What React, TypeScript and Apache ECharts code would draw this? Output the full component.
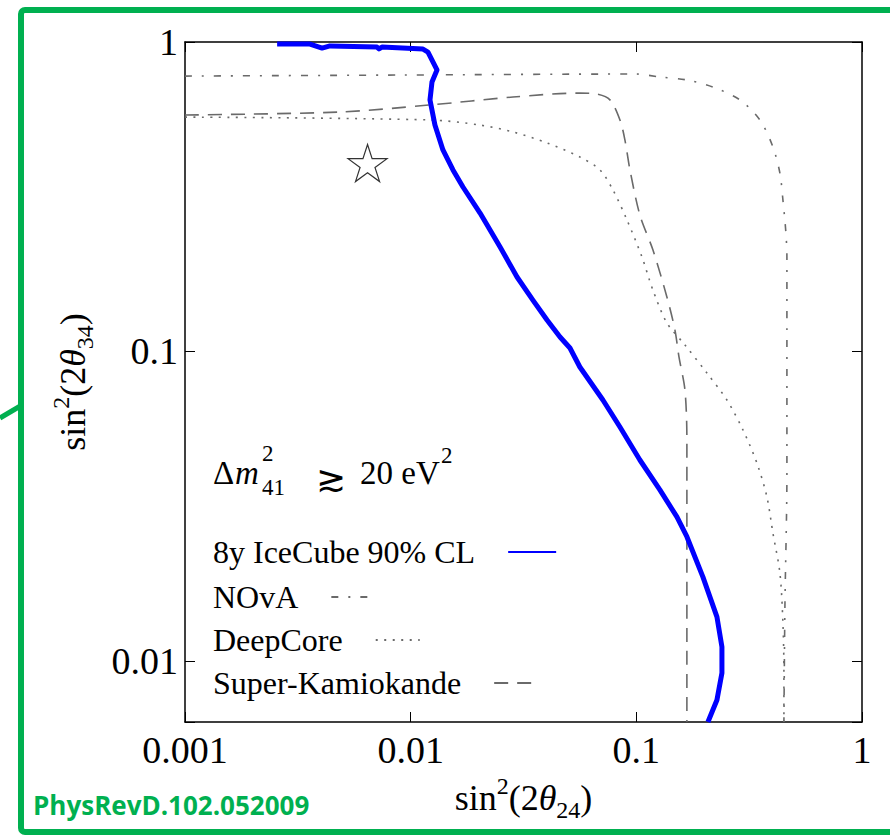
import React, { useEffect, useRef } from 'react';
import * as echarts from 'echarts';

// ---- data ----
const xRange = [0.001, 1];
const yRange = [0.00635, 1];
const seriesNames = ['8y IceCube 90% CL', 'NOvA', 'DeepCore', 'Super-Kamiokande'];

const iceCubeX = [0.00256, 0.00358, 0.00405, 0.00439, 0.00709, 0.00724, 0.00746, 0.01134, 0.01193, 0.01308, 0.01243, 0.01218, 0.01281, 0.0139, 0.0154, 0.01705, 0.0203, 0.0249, 0.0296, 0.0348, 0.0402, 0.0459, 0.0508, 0.0562, 0.0711, 0.0846, 0.1037, 0.1272, 0.1513, 0.1675, 0.1972, 0.2276, 0.2395, 0.2395, 0.2276, 0.2076];
const iceCubeY = [0.985, 0.985, 0.956, 0.971, 0.963, 0.95, 0.963, 0.949, 0.928, 0.812, 0.743, 0.65, 0.539, 0.448, 0.386, 0.34, 0.28, 0.2177, 0.174, 0.1466, 0.1264, 0.1114, 0.1026, 0.0891, 0.0697, 0.057, 0.0446, 0.0357, 0.0292, 0.0252, 0.0187, 0.01388, 0.0111, 0.00914, 0.00748, 0.00635];

const novaX = [0.001, 0.00897, 0.0986, 0.1272, 0.1675, 0.2185, 0.2877, 0.3528, 0.4029, 0.4327, 0.4462, 0.4601, 0.4648, 0.4648, 0.4648, 0.4554, 0.4508];
const novaY = [0.776, 0.782, 0.788, 0.771, 0.754, 0.715, 0.65, 0.56, 0.458, 0.377, 0.309, 0.2415, 0.202, 0.0939, 0.0405, 0.01494, 0.00635];

const deepCoreX = [0.001, 0.01218, 0.0203, 0.0284, 0.0402, 0.0562, 0.069, 0.0788, 0.0909, 0.1059, 0.1184, 0.1366, 0.1642, 0.2055, 0.252, 0.2967, 0.3422, 0.379, 0.4029, 0.4327, 0.4462, 0.4508, 0.4508];
const deepCoreY = [0.572, 0.56, 0.539, 0.512, 0.472, 0.425, 0.386, 0.3324, 0.266, 0.202, 0.158, 0.1237, 0.105, 0.0852, 0.0697, 0.0558, 0.0436, 0.0339, 0.0259, 0.01925, 0.01327, 0.00915, 0.00635];

const superKX = [0.001, 0.00486, 0.01218, 0.0284, 0.0562, 0.0669, 0.0764, 0.0846, 0.089, 0.0937, 0.1037, 0.1184, 0.1366, 0.1483, 0.1545, 0.1642, 0.1675, 0.1675, 0.1675];
const superKY = [0.581, 0.594, 0.626, 0.664, 0.684, 0.679, 0.65, 0.56, 0.4825, 0.386, 0.276, 0.213, 0.15, 0.1173, 0.096, 0.0751, 0.0518, 0.0246, 0.00635];

const starX = [0.00644];
const starY = [0.4064];

const annotation = { delta: 'Δ', m: 'm', sup: '2', sub: '41', rel: '≳', value: '20 eV', unitSup: '2' };
const credit = 'PhysRevD.102.052009';

// ---- styles ----
const SERIF = '"Liberation Serif", "Times New Roman", serif';
const GREY = '#6a6a6a';
const GREEN = '#00b050';

const zip = (xs: number[], ys: number[]) => xs.map((x, i) => [x, ys[i]]);

const decadeLabel = (v: number) => {
  const l = Math.log10(v);
  if (Math.abs(l - Math.round(l)) > 1e-6) return '';
  return String(Number(v.toPrecision(3)));
};

const axisNameRich = {
  n: { fontFamily: SERIF, fontSize: 36, lineHeight: 48, color: '#000' },
  t: { fontFamily: SERIF, fontSize: 36, lineHeight: 48, fontStyle: 'italic', color: '#000' },
  sup: { fontFamily: SERIF, fontSize: 24, lineHeight: 24, verticalAlign: 'top', color: '#000' },
  sub: { fontFamily: SERIF, fontSize: 24, lineHeight: 22, verticalAlign: 'bottom', color: '#000' },
};

const STAR = 'path://M50,2 L61.2,36.6 L97.6,36.6 L68.2,58 L79.4,92.6 L50,71.2 L20.6,92.6 L31.8,58 L2.4,36.6 L38.8,36.6 Z';

function legendFor(name: string, top: number, width: number) {
  return {
    data: [name],
    left: 213,
    top,
    orient: 'vertical',
    align: 'right',
    padding: 0,
    itemWidth: width,
    itemHeight: 14,
    selectedMode: false,
    itemStyle: { opacity: 0, borderWidth: 0 },
    textStyle: { fontFamily: SERIF, fontSize: 32, color: '#000', lineHeight: 36, padding: [0, 28, 0, 0] },
  };
}

export default function App() {
  const ref = useRef<HTMLDivElement>(null);
  useEffect(() => {
    if (!ref.current) return;
    const chart = echarts.init(ref.current, null, { renderer: 'svg' });
    const baseX = {
      type: 'log',
      logBase: 10,
      min: xRange[0],
      max: xRange[1],
      splitLine: { show: false },
      minorTick: { show: false },
      axisLine: { show: true, onZero: false, lineStyle: { color: '#000', width: 1.5 } },
      axisTick: { show: true, inside: true, length: 10, lineStyle: { color: '#000', width: 1 } },
    };
    const baseY = {
      type: 'log',
      logBase: 10,
      min: yRange[0],
      max: yRange[1],
      splitLine: { show: false },
      minorTick: { show: false },
      axisLine: { show: true, onZero: false, lineStyle: { color: '#000', width: 1.5 } },
      axisTick: { show: true, inside: true, length: 10, lineStyle: { color: '#000', width: 1 } },
    };
    chart.setOption({
      animation: false,
      backgroundColor: '#fff',
      grid: { left: 185, right: 28, top: 42, bottom: 113, containLabel: false, outerBoundsMode: 'none' },
      xAxis: [
        {
          ...baseX,
          position: 'bottom',
          axisLabel: { show: true, color: '#000', fontFamily: SERIF, fontSize: 38, margin: 9, formatter: decadeLabel },
          name: '{n|sin}{sup|2}{n|(2}{t|θ}{sub|24}{n|)}',
          nameLocation: 'middle',
          nameGap: 48,
          nameTextStyle: { fontFamily: SERIF, fontSize: 36, color: '#000', rich: axisNameRich },
        },
        { ...baseX, position: 'top', axisLabel: { show: false } },
      ],
      yAxis: [
        {
          ...baseY,
          position: 'left',
          axisLabel: { show: true, color: '#000', fontFamily: SERIF, fontSize: 38, margin: 7, formatter: decadeLabel },
          name: '{n|sin}{sup|2}{n|(2}{t|θ}{sub|34}{n|)}',
          nameLocation: 'middle',
          nameRotate: 90,
          nameGap: 88,
          nameTextStyle: { fontFamily: SERIF, fontSize: 36, color: '#000', rich: axisNameRich },
        },
        { ...baseY, position: 'right', axisLabel: { show: false } },
      ],
      legend: [
        legendFor(seriesNames[0], 534, 48),
        legendFor(seriesNames[1], 579, 36),
        legendFor(seriesNames[2], 622, 44),
        legendFor(seriesNames[3], 665, 38),
      ],
      series: [
        {
          name: seriesNames[0], type: 'line', data: zip(iceCubeX, iceCubeY), showSymbol: false, symbol: 'none',
          lineStyle: { color: '#0000ff', width: 5, cap: 'butt', join: 'round' }, itemStyle: { color: '#0000ff' }, z: 5,
        },
        {
          name: seriesNames[1], type: 'line', data: zip(novaX, novaY), showSymbol: false, symbol: 'none', smooth: 0.3,
          lineStyle: { color: GREY, width: 1.6, type: [7, 10, 2, 10] }, itemStyle: { color: GREY },
        },
        {
          name: seriesNames[2], type: 'line', data: zip(deepCoreX, deepCoreY), showSymbol: false, symbol: 'none', smooth: 0.3,
          lineStyle: { color: GREY, width: 1.6, type: [2, 6.5] }, itemStyle: { color: GREY },
        },
        {
          name: seriesNames[3], type: 'line', data: zip(superKX, superKY), showSymbol: false, symbol: 'none', smooth: 0.3,
          lineStyle: { color: GREY, width: 1.6, type: [14, 9] }, itemStyle: { color: GREY },
        },
        {
          name: 'star', type: 'scatter', data: zip(starX, starY), symbol: STAR, symbolSize: 39, symbolKeepAspect: true,
          itemStyle: { color: '#fff', borderColor: '#000', borderWidth: 1.2 }, z: 6,
        },
      ],
      graphic: [
        {
          type: 'rect', silent: true, z: 100,
          shape: { x: 21, y: 10, width: 920, height: 822, r: 4 },
          style: { fill: 'none', stroke: GREEN, lineWidth: 6 },
        },
        {
          type: 'line', silent: true, z: 100,
          shape: { x1: 0, y1: 418, x2: 22, y2: 405 },
          style: { stroke: GREEN, lineWidth: 5 },
        },
        {
          type: 'text', x: 33, y: 805, z: 100,
          style: { text: credit, fill: GREEN, font: 'bold 26px "Open Sans", "Noto Sans", sans-serif', align: 'left', verticalAlign: 'middle' },
        },
        {
          type: 'text', x: 213, y: 473, z: 50,
          style: { text: annotation.delta, fill: '#000', font: `33px ${SERIF}`, align: 'left', verticalAlign: 'middle' },
        },
        {
          type: 'text', x: 235, y: 473, z: 50,
          style: { text: annotation.m, fill: '#000', font: `italic 33px ${SERIF}`, align: 'left', verticalAlign: 'middle' },
        },
        {
          type: 'text', x: 262, y: 453, z: 50,
          style: { text: annotation.sup, fill: '#000', font: `23px ${SERIF}`, align: 'left', verticalAlign: 'middle' },
        },
        {
          type: 'text', x: 262, y: 487, z: 50,
          style: { text: annotation.sub, fill: '#000', font: `23px ${SERIF}`, align: 'left', verticalAlign: 'middle' },
        },
        {
          type: 'text', x: 316, y: 478, z: 50,
          style: { text: annotation.rel, fill: '#000', font: `36px "DejaVu Serif", serif`, align: 'left', verticalAlign: 'middle' },
        },
        {
          type: 'text', x: 360, y: 473, z: 50,
          style: { text: annotation.value, fill: '#000', font: `33px ${SERIF}`, align: 'left', verticalAlign: 'middle' },
        },
        {
          type: 'text', x: 441, y: 455, z: 50,
          style: { text: annotation.unitSup, fill: '#000', font: `23px ${SERIF}`, align: 'left', verticalAlign: 'middle' },
        },
      ],
    } as any);
    return () => chart.dispose();
  }, []);
  return <div ref={ref} style={{ position: 'absolute', left: 0, top: 0, width: 890, height: 835 }} />;
}
